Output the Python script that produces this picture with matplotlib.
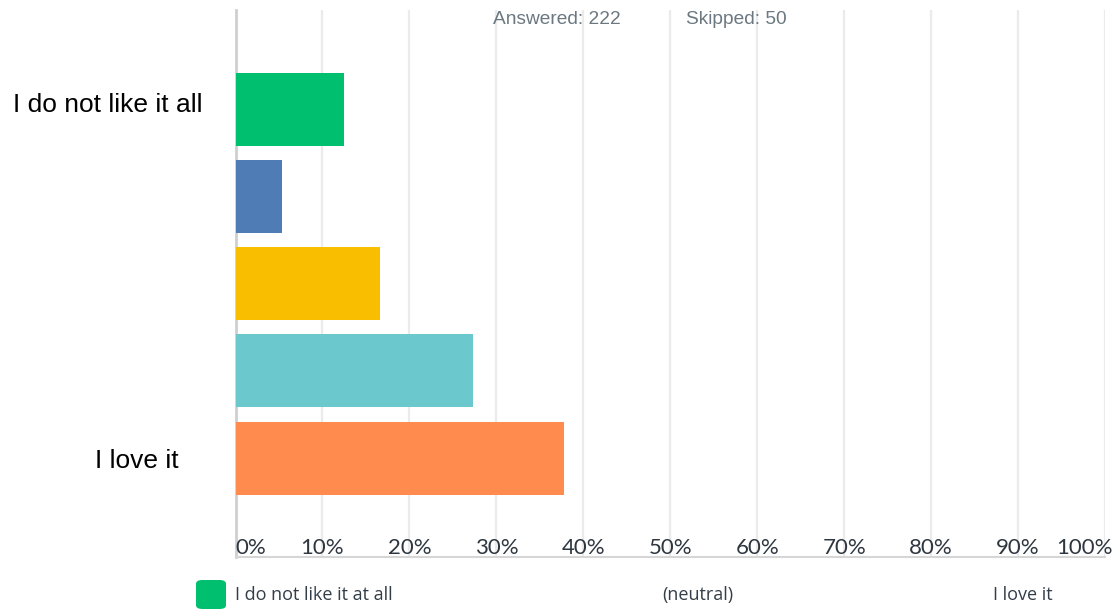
import matplotlib.pyplot as plt
from matplotlib.patches import FancyBboxPatch
import matplotlib.transforms as mtransforms

# --------------- Data ---------------
answers = ["I do not like it at all", "", "(neutral)", "", "I love it"]
percent = [12.5, 5.35, 16.6, 27.3, 37.8]
colors = ["#00bf6f", "#507cb6", "#f9be00", "#6bc8cd", "#ff8b4f"]
ticks = [0, 10, 20, 30, 40, 50, 60, 70, 80, 90, 100]
tick_labels = ["%d%%" % t for t in ticks]
answered = 222
skipped = 50

# --------------- Figure ---------------
W, H = 1115, 611
fig = plt.figure(figsize=(W / 100, H / 100), dpi=100)
ax = fig.add_axes([235.5 / W, 1 - 557 / H, 869.5 / W, 547 / H])

pos = list(range(len(percent)))
ax.barh(pos, percent, height=73 / 87.25, color=colors, zorder=3)
ax.set_xlim(0, 100)
ax.set_ylim(4 + 99 / 87.25, -99 / 87.25)

# grid
for t in ticks[1:]:
    ax.axvline(t, color="#ebebeb", lw=1.6, zorder=1)
for s in ["top", "right"]:
    ax.spines[s].set_visible(False)
ax.spines["left"].set_color("#cfcfcf")
ax.spines["left"].set_linewidth(2)
ax.spines["bottom"].set_color("#d6d6d6")
ax.spines["bottom"].set_linewidth(1.5)
ax.set_xticks([])
ax.set_yticks([])

# tick labels sit inside the plot, just above the bottom line
trans = mtransforms.blended_transform_factory(ax.transData, ax.transAxes)
for t, lab in zip(ticks, tick_labels):
    ha = "center"
    dx = 0
    if t == 0:
        ha = "left"
        dx = 0.0
    elif t == 100:
        ha = "right"
        dx = 0.9
    ax.text(t + dx, 3 / 547, lab, transform=trans, ha=ha, va="baseline",
            fontsize=16, family="Lato", color="#2e3740", clip_on=False)

# category labels (only first and last)
ax.text(-3.85, 0.04, "I do not like it all", ha="right", va="baseline",
        fontsize=19, family="Liberation Sans", color="black", clip_on=False)
ax.text(-6.5, 4.11, "I love it", ha="right", va="baseline",
        fontsize=19, family="Liberation Sans", color="black", clip_on=False)

# header
fig.text(493 / W, 1 - 24 / H, "Answered: %d" % answered, ha="left", va="baseline",
         fontsize=13.8, family="Liberation Sans", color="#6b7880")
fig.text(686 / W, 1 - 24 / H, "Skipped: %d" % skipped, ha="left", va="baseline",
         fontsize=13.8, family="Liberation Sans", color="#6b7880")

# legend at bottom
box = FancyBboxPatch((196 / W, 1 - 609 / H), 30 / W, 29 / H,
                     boxstyle="round,pad=0,rounding_size=0.006",
                     transform=fig.transFigure, facecolor=colors[0],
                     edgecolor="none")
fig.patches.append(box)
fig.text(235 / W, 1 - 600 / H, answers[0], ha="left", va="baseline",
         fontsize=13, family="Open Sans", color="#333e48")
fig.text(662 / W, 1 - 600 / H, answers[2], ha="left", va="baseline",
         fontsize=13, family="Open Sans", color="#333e48")
fig.text(993 / W, 1 - 600 / H, answers[4], ha="left", va="baseline",
         fontsize=13, family="Open Sans", color="#333e48")

fig.savefig("out.png", dpi=100)
